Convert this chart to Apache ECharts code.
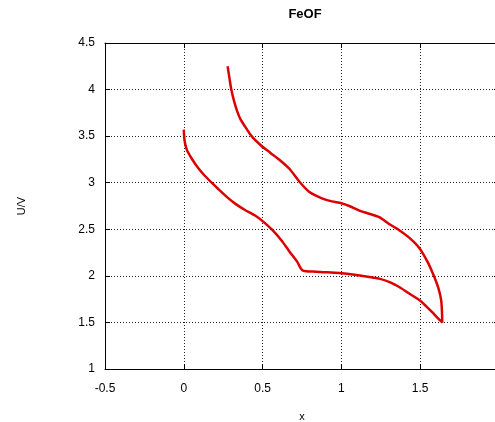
<!DOCTYPE html>
<html>
<head>
<meta charset="utf-8">
<script src="https://cdn.jsdelivr.net/npm/echarts@6/dist/echarts.min.js"></script>
<style>
  html, body { margin: 0; padding: 0; background: #fff; }
  #chart { width: 495px; height: 422px; }
</style>
</head>
<body>
<div id="chart"></div>
<script>
// 放电曲线 (x, U/V)
var dischargeX = [0, 0.005, 0.02, 0.05, 0.09, 0.13, 0.177, 0.22, 0.278, 0.33, 0.386, 0.45, 0.506, 0.563, 0.62, 0.671, 0.72, 0.753, 0.84, 0.987, 1.095, 1.17, 1.24, 1.31, 1.367, 1.43, 1.494, 1.54, 1.576, 1.61, 1.64];
var dischargeY = [3.57, 3.45, 3.35, 3.26, 3.16, 3.08, 3.0, 2.93, 2.84, 2.77, 2.71, 2.65, 2.58, 2.49, 2.38, 2.26, 2.15, 2.06, 2.045, 2.03, 2.01, 1.99, 1.97, 1.93, 1.88, 1.81, 1.74, 1.67, 1.61, 1.55, 1.5];
// 充电曲线
var chargeX = [1.64, 1.638, 1.633, 1.615, 1.589, 1.55, 1.494, 1.43, 1.367, 1.30, 1.24, 1.17, 1.114, 1.05, 1.0, 0.94, 0.88, 0.797, 0.734, 0.67, 0.608, 0.55, 0.49, 0.43, 0.39, 0.36, 0.34, 0.32, 0.302, 0.29, 0.278];
var chargeY = [1.5, 1.62, 1.74, 1.87, 1.99, 2.14, 2.30, 2.41, 2.49, 2.56, 2.63, 2.67, 2.70, 2.75, 2.78, 2.80, 2.83, 2.90, 3.01, 3.15, 3.244, 3.32, 3.40, 3.50, 3.60, 3.68, 3.76, 3.87, 3.995, 4.12, 4.25];

var curve = [];
for (var i = 0; i < dischargeX.length; i++) curve.push([dischargeX[i], dischargeY[i]]);
for (var j = 0; j < chargeX.length; j++) curve.push([chargeX[j], chargeY[j]]);

var font = 'Liberation Sans, Arial, sans-serif';
var gridLine = { show: true, lineStyle: { color: '#222', type: [1, 2], width: 1 } };
var frame = { show: true, onZero: false, lineStyle: { color: '#000', width: 1 } };
var tick = { show: true, inside: true, length: 5, lineStyle: { color: '#000' } };

var myChart = echarts.init(document.getElementById('chart'));
myChart.setOption({
    animation: false,
    title: {
        text: 'FeOF',
        left: 300,
        textAlign: 'center',
        top: 3,
        textStyle: { fontFamily: font, fontSize: 13, fontWeight: 'bold', color: '#000' }
    },
    grid: { left: 105, right: -4, top: 43, bottom: 53, outerBoundsMode: 'none', containLabel: false },
    xAxis: [
        {
            type: 'value', min: -0.5, max: 2, interval: 0.5,
            name: 'x', nameLocation: 'middle', nameGap: 42,
            nameTextStyle: { fontFamily: font, fontSize: 11, color: '#000' },
            axisLine: frame, axisTick: tick, splitLine: gridLine,
            axisLabel: { fontFamily: font, fontSize: 12, color: '#000', margin: 14, showMaxLabel: false }
        },
        {
            type: 'value', min: -0.5, max: 2, interval: 0.5, position: 'top',
            axisLine: frame, axisTick: tick, splitLine: { show: false }, axisLabel: { show: false }
        }
    ],
    yAxis: [
        {
            type: 'value', min: 1, max: 4.5, interval: 0.5,
            name: 'U/V', nameLocation: 'middle', nameGap: 78, nameRotate: 90,
            nameTextStyle: { fontFamily: font, fontSize: 11, color: '#000' },
            axisLine: frame, axisTick: tick, splitLine: gridLine,
            axisLabel: { fontFamily: font, fontSize: 12, color: '#000', margin: 10 }
        },
        {
            type: 'value', min: 1, max: 4.5, interval: 0.5, position: 'right',
            axisLine: frame, axisTick: tick, splitLine: { show: false }, axisLabel: { show: false }
        }
    ],
    series: [
        {
            name: 'FeOF',
            type: 'line',
            data: curve,
            showSymbol: false,
            smooth: 0.25,
            lineStyle: { color: '#dd0000', width: 2.5 },
            itemStyle: { color: '#dd0000' }
        }
    ]
});
</script>
</body>
</html>
